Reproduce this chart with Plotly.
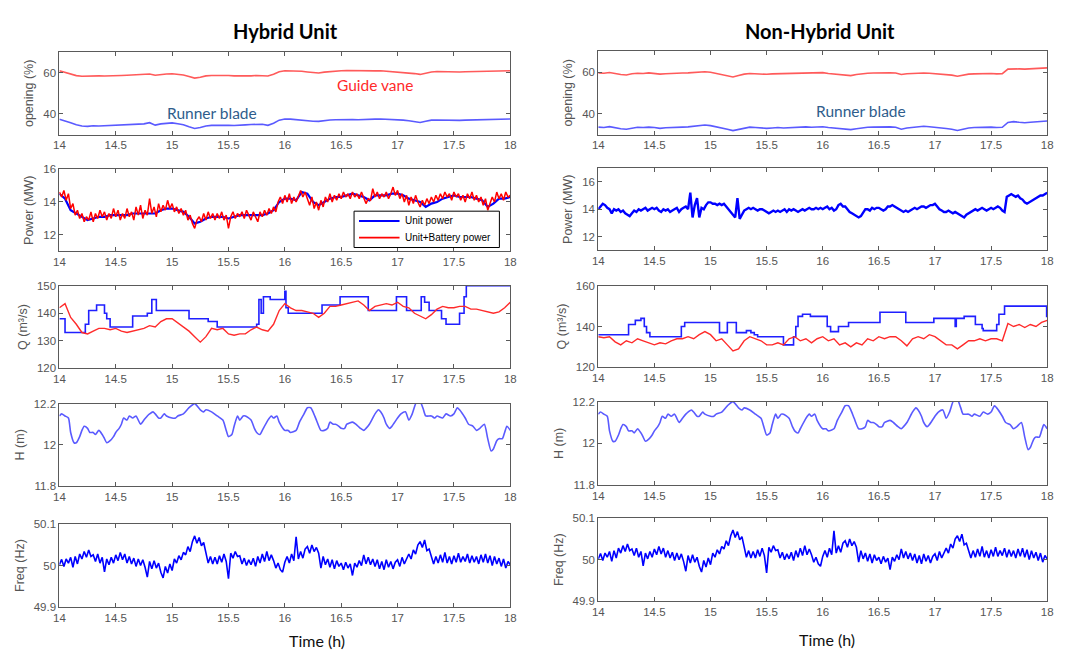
import numpy as np
import plotly.graph_objects as go
from plotly.subplots import make_subplots

# ---------------- data ----------------
x_ticks = [14, 14.5, 15, 15.5, 16, 16.5, 17, 17.5, 18]
x_ticktext = ["14", "14.5", "15", "15.5", "16", "16.5", "17", "17.5", "18"]

# opening (%) sampled every 0.05 h
gv_hybrid = [61.0, 60.2, 59.2, 58.6, 58.3, 58.4, 58.6, 58.5, 58.4, 58.6, 58.5, 58.7, 58.8, 58.9,
             59.0, 59.1, 59.4, 58.8, 59.2, 59.4, 59.5, 59.2, 58.9, 58.2, 57.4, 57.8, 58.5, 58.7,
             58.8, 58.6, 58.7, 58.5, 58.4, 58.6, 58.5, 58.7, 58.6, 58.4, 59.3, 60.5, 61.0, 61.0,
             60.8, 60.7, 60.4, 60.2, 59.9, 60.3, 60.6, 60.8, 61.0, 61.1, 61.0, 61.0, 60.9, 60.7,
             60.9, 61.0, 60.8, 60.6, 60.5, 60.3, 60.0, 59.6, 59.2, 59.8, 60.4, 60.6, 60.5, 60.6,
             60.5, 60.4, 60.5, 60.6, 60.6, 60.5, 60.6, 60.7, 60.8, 60.9, 61.0]
rb_hybrid = [37.5, 36.8, 35.8, 34.8, 34.2, 34.0, 34.3, 34.2, 34.3, 34.5, 34.4, 34.6, 34.7, 34.8,
             35.0, 35.2, 35.8, 34.6, 35.2, 35.6, 35.7, 35.3, 34.8, 33.8, 33.0, 33.4, 34.2, 34.5,
             34.6, 34.4, 34.5, 34.4, 34.4, 34.7, 34.9, 35.1, 35.0, 34.5, 35.5, 37.0, 37.6, 37.5,
             37.2, 37.0, 36.6, 36.5, 36.4, 36.8, 37.1, 37.2, 37.3, 37.4, 37.3, 37.2, 37.2, 37.3,
             37.5, 37.6, 37.5, 37.4, 37.3, 37.0, 36.7, 36.3, 35.9, 36.5, 37.0, 37.1, 37.0, 37.1,
             37.0, 36.9, 37.0, 37.1, 37.0, 37.1, 37.2, 37.3, 37.4, 37.5, 37.6]
gv_nonhybrid = [59.6, 59.4, 59.8, 59.2, 58.8, 58.6, 59.2, 59.4, 59.3, 59.6, 59.4, 59.0, 59.2, 59.4,
                59.3, 59.5, 59.6, 59.8, 60.0, 60.1, 59.9, 59.4, 58.9, 58.4, 57.6, 58.3, 59.0, 59.3,
                59.1, 59.0, 58.9, 59.1, 59.2, 59.0, 59.2, 59.3, 59.4, 59.6, 59.5, 59.6, 59.7, 59.3,
                59.0, 58.7, 58.5, 58.3, 58.8, 59.2, 59.4, 59.5, 59.6, 59.7, 59.6, 59.5, 58.8, 59.2,
                59.4, 59.6, 59.5, 59.4, 59.2, 59.0, 58.8, 58.5, 58.0, 58.6, 59.0, 59.1, 59.2, 59.0,
                59.3, 59.1, 59.2, 61.4, 61.6, 61.5, 61.4, 61.6, 61.7, 61.8, 62.0]
rb_nonhybrid = [33.6, 33.4, 33.8, 33.2, 32.8, 32.6, 33.2, 33.5, 33.4, 33.6, 33.4, 33.0, 33.3, 33.5,
                33.4, 33.6, 33.7, 33.9, 34.2, 34.6, 34.3, 33.8, 33.2, 32.6, 31.9, 32.4, 33.2, 33.6,
                33.4, 33.2, 33.0, 33.2, 33.4, 33.2, 33.4, 33.5, 33.6, 33.7, 33.5, 33.6, 33.8, 33.4,
                33.2, 32.9, 32.6, 32.4, 32.8, 33.3, 33.5, 33.6, 33.7, 33.8, 33.7, 33.5, 32.6, 33.2,
                33.5, 33.8, 34.0, 33.8, 33.6, 33.2, 32.9, 32.6, 32.0, 32.6, 33.2, 33.4, 33.5, 33.3,
                33.6, 33.4, 33.5, 35.8, 36.2, 35.9, 35.7, 35.9, 36.1, 36.3, 36.5]

# power (MW)
unit_power_hybrid = [14.5, 14.2, 13.5, 13.3, 13.1, 12.9, 13.0, 13.1, 13.1, 13.2, 13.2, 13.2, 13.2, 13.3,
                     13.3, 13.3, 13.3, 13.3, 13.5, 13.6, 13.6, 13.5, 13.4, 13.1, 12.7, 12.8, 13.0, 13.1,
                     13.1, 13.1, 13.0, 13.1, 13.2, 13.2, 13.2, 13.2, 13.2, 13.3, 13.5, 14.0, 14.2, 14.2,
                     14.1, 14.6, 14.5, 14.0, 13.8, 14.0, 14.2, 14.3, 14.3, 14.4, 14.5, 14.4, 14.3, 14.1,
                     14.4, 14.4, 14.4, 14.5, 14.5, 14.4, 14.2, 14.1, 14.0, 13.7, 13.9, 14.0, 14.2, 14.3,
                     14.4, 14.3, 14.3, 14.3, 14.2, 14.1, 13.7, 13.9, 14.2, 14.2, 14.3]
unit_battery_power_hybrid = [
    14.6, 14.3, 14.7, 14.1, 14.5, 13.6, 13.9, 13.2, 13.5, 13.0, 13.3, 12.8, 13.1, 12.9, 13.4,
    12.8, 13.3, 13.0, 13.5, 13.1, 13.4, 12.9, 13.3, 13.0, 13.6, 13.1, 13.5, 12.9, 13.3, 13.0,
    13.6, 13.1, 13.4, 12.9, 13.7, 13.2, 13.8, 13.0, 13.5, 13.2, 14.2, 13.3, 13.7, 13.1, 13.9,
    13.4, 13.8, 13.5, 14.1, 13.6, 13.9, 13.4, 13.7, 13.3, 13.6, 13.2, 13.5, 12.9, 13.2, 12.7,
    12.4, 12.9, 13.1, 12.8, 13.3, 12.9, 13.4, 13.0, 13.3, 12.9, 13.3, 13.0, 13.4, 12.9, 13.2,
    12.4, 13.1, 13.4, 13.0, 13.3, 13.1, 13.4, 13.0, 13.5, 13.2, 12.9, 13.4, 13.1, 12.8, 13.4,
    13.1, 13.5, 13.2, 13.6, 13.3, 13.7, 13.4, 14.0, 14.3, 13.9, 14.4, 14.0, 14.5, 13.9, 14.3,
    14.0, 14.4, 14.7, 14.3, 14.6, 14.2, 13.8, 14.3, 13.6, 14.0, 13.5, 14.1, 13.7, 14.3, 14.0,
    14.5, 14.0, 14.4, 14.1, 14.5, 14.2, 14.6, 14.3, 14.5, 14.2, 14.6, 14.3, 14.5, 14.2, 14.6,
    14.3, 13.9, 14.2, 14.1, 14.8, 14.3, 14.6, 14.2, 14.5, 14.3, 14.6, 14.2, 14.5, 14.9, 14.4,
    14.7, 14.2, 14.5, 14.0, 14.4, 13.8, 14.3, 13.9, 14.4, 14.0, 13.7, 14.1, 13.8, 14.2, 13.9,
    14.3, 14.0, 14.4, 14.1, 14.5, 14.2, 14.6, 14.3, 14.5, 14.1, 14.6, 14.3, 14.5, 14.1, 14.4,
    14.0, 14.5, 14.2, 14.6, 14.1, 14.4, 14.0, 14.3, 13.8, 14.2, 13.5, 13.9, 14.3, 14.0, 14.6,
    14.2, 14.5, 14.1, 14.6, 14.3, 14.4]
unit_power_nonhybrid = [
    14.0, 14.2, 14.4, 14.3, 14.1, 14.0, 13.7, 14.0, 13.9, 14.0, 13.8, 13.9, 13.7, 13.6, 13.5,
    13.7, 13.9, 13.8, 14.0, 13.9, 14.0, 14.1, 13.9, 14.0, 14.1, 14.0, 14.1, 13.9, 13.8, 14.0,
    13.9, 14.0, 13.8, 13.9, 14.0, 14.1, 13.8, 14.0, 14.1, 14.2, 14.0, 15.2, 13.4, 14.3, 14.8,
    13.4, 14.1, 14.0, 14.3, 14.5, 14.5, 14.4, 14.4, 14.3, 14.4, 14.3, 14.4, 14.2, 14.0, 13.8,
    13.6, 13.4, 14.8, 13.3, 13.6, 13.9, 14.0, 14.1, 14.0, 14.1, 14.0, 13.9, 14.0, 14.0, 13.9,
    13.8, 13.7, 13.8, 13.9, 13.8, 13.9, 13.8, 13.9, 14.0, 13.8, 14.0, 13.9, 14.0, 13.9, 13.8,
    13.9, 14.0, 13.9, 14.0, 14.1, 14.0, 14.0, 14.1, 14.0, 14.1, 14.0, 14.1, 14.2, 14.0, 14.1,
    13.9, 14.0, 14.3, 14.4, 14.2, 14.2, 14.0, 13.8, 13.7, 13.6, 13.5, 13.4, 13.5, 13.8, 14.0,
    14.0, 13.9, 14.1, 14.0, 14.1, 14.1, 14.0, 13.9, 14.0, 14.2, 14.2, 14.3, 14.2, 14.1, 14.0,
    13.9, 13.8, 13.9, 13.8, 13.9, 14.0, 14.1, 14.0, 14.1, 14.2, 14.2, 14.1, 14.2, 14.3, 14.3,
    14.4, 14.2, 14.0, 13.9, 13.8, 13.8, 13.9, 13.8, 13.7, 13.8, 13.7, 13.6, 13.5, 13.4, 13.6,
    13.7, 13.8, 13.9, 14.0, 13.9, 14.0, 14.1, 14.0, 13.9, 14.0, 14.1, 14.0, 14.1, 14.2, 14.1,
    13.9, 13.8, 14.9, 15.0, 15.1, 15.0, 14.9, 15.0, 14.8, 14.7, 14.5, 14.4, 14.5, 14.6, 14.7,
    14.8, 14.9, 15.0, 15.0, 15.1, 15.2]

# discharge Q (m3/s): red sampled every 0.05 h, blue is a stepped signal
q_red_hybrid = [142, 143.5, 138.5, 136, 133, 132.5, 133.5, 134.5, 134.5, 134, 134.5, 133.5, 133, 133.5,
                134, 134.5, 135.5, 135, 137, 138, 138, 136.5, 135, 133.5, 131.5, 129.5, 131.5, 134.5,
                134, 134.5, 132.5, 132, 132.5, 132.5, 134, 135, 134, 133.5, 136, 141, 143.5, 142,
                141, 141, 140.5, 140, 138.5, 140, 142.5, 142.5, 143, 143.5, 144, 144.5, 143, 141,
                142.5, 143, 143.5, 143, 144, 142.5, 142, 140, 139, 138, 139.5, 141.5, 142.5, 142,
                142, 142.5, 142.5, 141.5, 141.5, 141, 140.5, 140, 140.5, 142, 144]
q_blue_hybrid_t = [14.00, 14.05, 14.23, 14.26, 14.33, 14.40, 14.42, 14.45, 14.65, 14.78, 14.82, 14.86,
                   15.15, 15.32, 15.40, 15.75, 15.77, 15.79, 15.81, 15.87, 15.95, 16.00, 16.01, 16.03,
                   16.33, 16.49, 16.74, 16.99, 17.08, 17.21, 17.24, 17.28, 17.39, 17.43, 17.55, 17.59,
                   17.61, 18.00]
q_blue_hybrid = [138, 133, 136, 141, 143, 140, 138, 135, 139, 140, 145, 141,
                 138, 137, 135, 136, 145, 140, 146, 145, 145, 148, 142, 140,
                 143, 146, 141, 146, 141, 146, 144, 141, 138, 136, 140, 146,
                 150, 150]
q_red_nonhybrid = [135, 134.5, 135, 132.5, 131, 133, 132, 134, 133, 132, 131, 132, 131.5, 133,
                   134, 134, 135, 134, 136, 137.5, 136, 133, 134, 131, 128, 129, 133, 135,
                   134, 133, 131, 131, 132, 131, 134, 135, 133, 134, 132, 134, 135, 133,
                   134, 131, 132, 130, 132, 131, 134, 133, 135, 134, 135, 135, 133, 130.5,
                   134, 135, 134, 136, 135, 133, 131, 131, 129, 131, 133, 133, 134, 133,
                   134, 134, 133, 141.5, 140, 141, 139.5, 141, 140, 142, 143]
q_blue_nonhybrid_t = [14.00, 14.27, 14.33, 14.38, 14.41, 14.43, 14.46, 14.74, 14.77, 15.08, 15.15,
                      15.23, 15.32, 15.36, 15.39, 15.42, 15.65, 15.74, 15.76, 15.78, 15.82, 15.89,
                      16.04, 16.07, 16.14, 16.23, 16.51, 16.74, 16.99, 17.18, 17.19, 17.26, 17.36,
                      17.42, 17.43, 17.55, 17.57, 17.59, 17.62, 17.995, 18.00]
q_blue_nonhybrid = [136, 141, 143, 144, 140, 137, 135, 140, 142, 137, 142,
                    137, 138, 137, 136, 135, 131, 135, 140, 145, 146, 145,
                    140, 137.5, 140, 142, 147, 142, 144, 140, 144, 145, 141,
                    139, 138, 141, 146, 146, 150, 145, 145]

# head H (m), same grid head for both units
head_t = [14.0, 14.02, 14.05, 14.08, 14.1, 14.13, 14.15, 14.18, 14.2, 14.22, 14.25, 14.27, 14.3, 14.32,
          14.35, 14.38, 14.4, 14.42, 14.45, 14.48, 14.5, 14.53, 14.55, 14.57, 14.6, 14.62, 14.65, 14.68,
          14.7, 14.72, 14.75, 14.78, 14.8, 14.83, 14.85, 14.88, 14.9, 14.93, 14.95, 15.0, 15.03, 15.05,
          15.1, 15.15, 15.2, 15.25, 15.28, 15.3, 15.35, 15.4, 15.45, 15.48, 15.5, 15.53, 15.55, 15.58,
          15.6, 15.63, 15.65, 15.7, 15.73, 15.75, 15.78, 15.8, 15.85, 15.88, 15.9, 15.93, 15.95, 16.0,
          16.03, 16.05, 16.1, 16.13, 16.17, 16.2, 16.23, 16.25, 16.28, 16.32, 16.35, 16.38, 16.4, 16.43,
          16.45, 16.48, 16.5, 16.53, 16.55, 16.6, 16.63, 16.67, 16.7, 16.72, 16.75, 16.8, 16.83, 16.85,
          16.88, 16.9, 16.93, 16.95, 17.0, 17.03, 17.07, 17.1, 17.13, 17.17, 17.2, 17.23, 17.25, 17.3,
          17.33, 17.35, 17.4, 17.43, 17.47, 17.5, 17.53, 17.55, 17.6, 17.63, 17.67, 17.7, 17.73, 17.77,
          17.8, 17.83, 17.85, 17.88, 17.9, 17.93, 17.95, 17.97, 18.0]
head_m = [12.14, 12.15, 12.14, 12.13, 12.06, 12.01, 12.01, 12.04, 12.07, 12.09, 12.08, 12.06, 12.06, 12.05,
          12.07, 12.05, 12.03, 12.01, 12.02, 12.04, 12.06, 12.08, 12.10, 12.13, 12.12, 12.14, 12.13, 12.14,
          12.12, 12.10, 12.12, 12.14, 12.15, 12.16, 12.15, 12.13, 12.13, 12.15, 12.14, 12.13, 12.13, 12.14,
          12.15, 12.18, 12.20, 12.17, 12.16, 12.17, 12.16, 12.14, 12.12, 12.07, 12.04, 12.05, 12.09, 12.14,
          12.12, 12.14, 12.14, 12.12, 12.08, 12.06, 12.05, 12.07, 12.12, 12.14, 12.13, 12.14, 12.11, 12.07,
          12.07, 12.06, 12.07, 12.11, 12.15, 12.18, 12.18, 12.16, 12.12, 12.07, 12.07, 12.08, 12.11, 12.10,
          12.10, 12.09, 12.08, 12.08, 12.10, 12.11, 12.10, 12.08, 12.07, 12.08, 12.10, 12.15, 12.17, 12.16,
          12.13, 12.10, 12.08, 12.09, 12.13, 12.15, 12.16, 12.12, 12.15, 12.21, 12.21, 12.17, 12.14, 12.14,
          12.13, 12.14, 12.13, 12.15, 12.14, 12.15, 12.18, 12.17, 12.13, 12.10, 12.09, 12.07, 12.08, 12.10,
          12.03, 11.97, 11.98, 12.02, 12.03, 12.03, 12.06, 12.09, 12.07]

# grid frequency (Hz), sampled every 0.02 h
freq_hz = [
    50.002, 50.015, 49.998, 50.016, 50.006, 50.020, 49.996, 50.022, 50.004, 50.028,
    50.016, 50.034, 50.020, 50.038, 50.022, 50.026, 50.010, 50.028, 50.006, 50.020,
    49.985, 50.016, 50.002, 50.020, 50.006, 50.026, 50.012, 50.032, 50.014, 50.028,
    50.006, 50.022, 50.004, 50.018, 49.998, 50.016, 50.000, 50.014, 49.996, 49.972,
    50.010, 49.992, 50.012, 49.994, 50.006, 49.984, 49.970, 49.998, 49.982, 50.004,
    49.988, 50.016, 50.006, 50.024, 50.014, 50.032, 50.026, 50.046, 50.034, 50.058,
    50.072, 50.054, 50.068, 50.048, 50.056, 50.028, 50.006, 50.022, 50.004, 50.020,
    50.004, 50.024, 50.008, 50.028, 50.010, 49.968, 50.030, 50.018, 50.034, 50.022,
    50.024, 50.004, 50.018, 50.000, 50.014, 50.002, 50.018, 49.998, 50.022, 50.006,
    50.028, 50.010, 50.034, 50.012, 50.026, 50.012, 49.994, 50.006, 49.990, 49.984,
    50.008, 50.022, 50.006, 50.028, 50.012, 50.070, 50.016, 50.034, 50.018, 50.040,
    50.046, 50.030, 50.050, 50.034, 50.044, 50.030, 49.994, 50.022, 50.002, 50.016,
    49.996, 50.014, 49.992, 50.012, 49.998, 50.006, 49.990, 50.008, 49.994, 50.004,
    49.976, 50.006, 49.996, 50.012, 50.000, 50.026, 50.004, 50.020, 50.002, 50.016,
    49.998, 50.014, 49.992, 50.010, 49.990, 50.014, 49.996, 50.010, 49.992, 50.008,
    50.014, 49.998, 50.020, 50.004, 50.018, 50.028, 50.016, 50.038, 50.028, 50.050,
    50.058, 50.044, 50.062, 50.036, 50.040, 50.024, 50.004, 50.022, 50.006, 50.026,
    50.008, 50.032, 50.006, 50.022, 50.004, 50.024, 50.008, 50.030, 50.008, 50.022,
    50.010, 50.028, 50.006, 50.024, 50.008, 50.022, 50.004, 50.026, 50.008, 50.028,
    50.006, 50.024, 50.000, 50.022, 50.004, 50.018, 49.998, 50.016, 49.994, 50.010,
    50.002]

legend_labels = ["Unit power", "Unit+Battery power"]

# ---------------- figure ----------------
W, H = 1070, 656
fig = make_subplots(rows=5, cols=2)


def tgrid(vals):
    return np.linspace(14, 18, len(vals))


BLUE = "#1f1fff"
RED = "#ff2a2a"
LBLUE = "#5a5aff"
LRED = "#ff5a5a"

# left column (Hybrid)
fig.add_trace(go.Scatter(x=tgrid(gv_hybrid), y=gv_hybrid, mode="lines", line=dict(color=LRED, width=1.6)), 1, 1)
fig.add_trace(go.Scatter(x=tgrid(rb_hybrid), y=rb_hybrid, mode="lines", line=dict(color=LBLUE, width=1.6)), 1, 1)
fig.add_trace(go.Scatter(x=tgrid(unit_power_hybrid), y=unit_power_hybrid, mode="lines", name=legend_labels[0],
                         line=dict(color="#0000ff", width=2.2)), 2, 1)
fig.add_trace(go.Scatter(x=tgrid(unit_battery_power_hybrid), y=unit_battery_power_hybrid, mode="lines",
                         name=legend_labels[1], line=dict(color="#ff0000", width=1.5)), 2, 1)
fig.add_trace(go.Scatter(x=q_blue_hybrid_t, y=q_blue_hybrid, mode="lines", line=dict(color=BLUE, width=1.6, shape="hv")), 3, 1)
fig.add_trace(go.Scatter(x=tgrid(q_red_hybrid), y=q_red_hybrid, mode="lines", line=dict(color=RED, width=1.4)), 3, 1)
fig.add_trace(go.Scatter(x=head_t, y=head_m, mode="lines", line=dict(color=LBLUE, width=1.6, shape="spline", smoothing=0.6)), 4, 1)
fig.add_trace(go.Scatter(x=tgrid(freq_hz), y=freq_hz, mode="lines", line=dict(color="#0000ff", width=1.6)), 5, 1)

# right column (Non-Hybrid)
fig.add_trace(go.Scatter(x=tgrid(gv_nonhybrid), y=gv_nonhybrid, mode="lines", line=dict(color=LRED, width=1.6)), 1, 2)
fig.add_trace(go.Scatter(x=tgrid(rb_nonhybrid), y=rb_nonhybrid, mode="lines", line=dict(color=LBLUE, width=1.6)), 1, 2)
fig.add_trace(go.Scatter(x=tgrid(unit_power_nonhybrid), y=unit_power_nonhybrid, mode="lines", line=dict(color="#0000ff", width=2.4)), 2, 2)
fig.add_trace(go.Scatter(x=q_blue_nonhybrid_t, y=q_blue_nonhybrid, mode="lines", line=dict(color=BLUE, width=1.6, shape="hv")), 3, 2)
fig.add_trace(go.Scatter(x=tgrid(q_red_nonhybrid), y=q_red_nonhybrid, mode="lines", line=dict(color=RED, width=1.4)), 3, 2)
fig.add_trace(go.Scatter(x=head_t, y=head_m, mode="lines", line=dict(color=LBLUE, width=1.6, shape="spline", smoothing=0.6)), 4, 2)
fig.add_trace(go.Scatter(x=tgrid(freq_hz), y=freq_hz, mode="lines", line=dict(color="#0000ff", width=1.6)), 5, 2)

# layout geometry (pixels)
x_dom_px = {1: (54, 510), 2: (599, 1053)}
y_dom_px = {
    1: [(47, 131), (166, 250), (285, 369), (405, 489), (528, 612)],
    2: [(46, 131), (165, 249), (285, 368), (403, 488), (522, 606)],
}
y_ranges = {
    1: [[30, 70], [11, 16], [120, 150], [11.8, 12.2], [49.9, 50.1]],
    2: [[30, 70], [11, 17], [120, 160], [11.8, 12.2], [49.9, 50.1]],
}
y_tickvals = {
    1: [[40, 60], [12, 14, 16], [120, 130, 140, 150], [11.8, 12, 12.2], [49.9, 50, 50.1]],
    2: [[40, 60], [12, 14, 16], [120, 140, 160], [11.8, 12, 12.2], [49.9, 50, 50.1]],
}
y_ticktext = {
    1: [["40", "60"], ["12", "14", "16"], ["120", "130", "140", "150"], ["11.8", "12", "12.2"], ["49.9", "50", "50.1"]],
    2: [["40", "60"], ["12", "14", "16"], ["120", "140", "160"], ["11.8", "12", "12.2"], ["49.9", "50", "50.1"]],
}
y_titles = ["opening (%)", "Power (MW)", "Q (m³/s)", "H (m)", "Freq (Hz)"]

AX_COL = "#5a5a5a"
SANS = "Liberation Sans, Arial, sans-serif"
TICK_FONT = dict(family=SANS, size=11.5, color="#555555")
common = dict(showline=True, linecolor=AX_COL, linewidth=1, mirror="allticks", ticks="inside",
              ticklen=4, tickcolor=AX_COL, tickwidth=1, showgrid=False, zeroline=False,
              tickfont=TICK_FONT)

for r in range(1, 6):
    for c in (1, 2):
        n = (r - 1) * 2 + c
        xs = "" if n == 1 else str(n)
        x0, x1 = x_dom_px[c]
        t0, b0 = y_dom_px[c][r - 1]
        fig.layout["xaxis" + xs].update(domain=[x0 / W, x1 / W], range=[14, 18], tickvals=x_ticks,
                                        ticktext=x_ticktext, **common)
        fig.layout["yaxis" + xs].update(domain=[1 - b0 / H, 1 - t0 / H], range=y_ranges[c][r - 1],
                                        tickvals=y_tickvals[c][r - 1], ticktext=y_ticktext[c][r - 1],
                                        title=dict(text=y_titles[r - 1], standoff=6,
                                                   font=dict(family=SANS, size=12.5, color="#555555")),
                                        **common)


def ann(text, px, py, size, color, bold=False, family="Lato, sans-serif", xanchor="center"):
    fig.add_annotation(x=px / W, y=1 - py / H, xref="paper", yref="paper",
                       text=("<b>%s</b>" % text) if bold else text,
                       showarrow=False, xanchor=xanchor, yanchor="middle",
                       font=dict(family=family, size=size, color=color))


ann("Hybrid Unit", 283, 25, 20, "#000000", bold=True)
ann("Non-Hybrid Unit", 823, 25, 20, "#000000", bold=True)
ann("Time (h)", 315, 646, 16, "#111111")
ann("Time (h)", 830, 645, 16, "#111111")
ann("Guide vane", 373, 80, 15.5, "#ff2a2a")
ann("Runner blade", 208, 109, 15.5, "#2f5d8c")
ann("Runner blade", 865, 107, 15.5, "#2f5d8c")

# legend box drawn in the power panel (compact MATLAB-style legend)
fig.add_shape(type="rect", xref="paper", yref="paper", x0=352 / W, x1=499 / W, y0=1 - 246 / H, y1=1 - 209 / H,
              line=dict(color="#000000", width=1), fillcolor="white", layer="above")
for py, col, lab in [(219, "#0000ff", legend_labels[0]), (236, "#ff0000", legend_labels[1])]:
    fig.add_shape(type="line", xref="paper", yref="paper", x0=357 / W, x1=398 / W, y0=1 - py / H, y1=1 - py / H,
                  line=dict(color=col, width=1.8), layer="above")
    ann(lab, 401, py, 10, "#000000", family=SANS, xanchor="left")

fig.update_layout(
    width=W, height=H,
    margin=dict(l=0, r=0, t=0, b=0),
    paper_bgcolor="white", plot_bgcolor="white",
    showlegend=False,
)

fig.write_html("out.html")
